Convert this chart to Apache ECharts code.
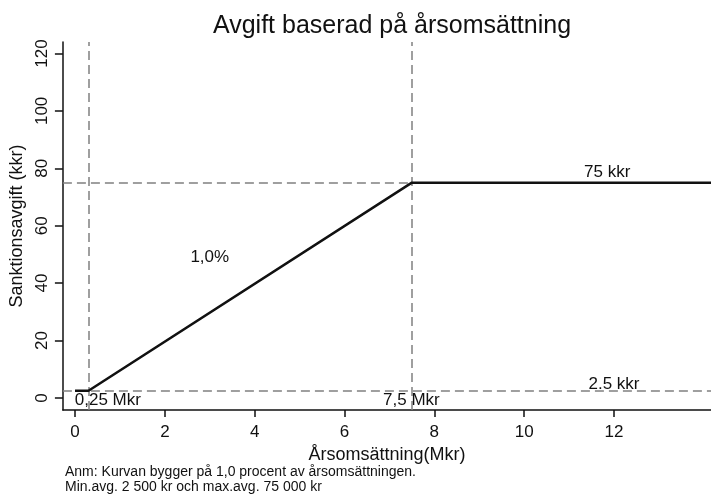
<!DOCTYPE html>
<html>
<head>
<meta charset="utf-8">
<script src="https://cdn.jsdelivr.net/npm/echarts@6/dist/echarts.min.js"></script>
<style>
html,body{margin:0;padding:0;background:#fff;}
#c{width:711px;height:495px;}
</style>
</head>
<body>
<div id="c"></div>
<script>
// Data
const titleText = 'Avgift baserad på årsomsättning';
const xName = 'Årsomsättning(Mkr)';
const yName = 'Sanktionsavgift (kkr)';
const xTicks = [0, 2, 4, 6, 8, 10, 12];
const yTicks = [0, 20, 40, 60, 80, 100, 120];
const turnover = [0, 0.3, 7.5, 14.2];        // Mkr
const fee = [2.5, 2.5, 75, 75];               // kkr
const refX = [0.3, 7.5];
const refY = [2.5, 75];
const annX = [3.0, 11.85, 12.0, 0.73, 7.49];
const annY = [49, 78.5, 4.6, -0.8, -0.8];
const annText = ['1,0%', '75 kkr', '2.5 kkr', '0,25 Mkr', '7,5 Mkr'];
const notes = ['Anm: Kurvan bygger på 1,0 procent av årsomsättningen.', 'Min.avg. 2 500 kr och max.avg. 75 000 kr'];

const FONT = '"Liberation Sans", Arial, sans-serif';
const chart = echarts.init(document.getElementById('c'), null, {renderer: 'canvas'});

const lineData = turnover.map((x, i) => [x, fee[i]]);
const annData = annX.map((x, i) => [x, annY[i], annText[i]]);
const markData = refX.map(v => ({xAxis: v})).concat(refY.map(v => ({yAxis: v})));

chart.setOption({
  animation: false,
  backgroundColor: '#fff',
  title: {
    text: titleText,
    left: 387, top: 9, textAlign: 'center',
    textStyle: {fontFamily: FONT, fontSize: 25, fontWeight: 'normal', color: '#111'}
  },
  grid: {left: 62, top: 42, right: 0, bottom: 85, containLabel: false},
  xAxis: {
    type: 'value', min: -0.27, max: 14.16,
    name: xName, nameLocation: 'middle', nameGap: 28,
    nameTextStyle: {fontFamily: FONT, fontSize: 18, color: '#111'},
    axisLine: {show: true, onZero: false, lineStyle: {color: '#111', width: 1.5}},
    axisTick: {show: true, length: 7, customValues: xTicks, lineStyle: {color: '#111', width: 1.5}},
    axisLabel: {customValues: xTicks, margin: 14, fontFamily: FONT, fontSize: 17, color: '#111'},
    splitLine: {show: false}
  },
  yAxis: {
    type: 'value', min: -4.2, max: 124,
    name: yName, nameLocation: 'middle', nameGap: 33,
    nameTextStyle: {fontFamily: FONT, fontSize: 18, color: '#111'},
    axisLine: {show: true, onZero: false, lineStyle: {color: '#111', width: 1.5}},
    axisTick: {show: true, length: 8, customValues: yTicks, lineStyle: {color: '#111', width: 1.5}},
    axisLabel: {customValues: yTicks, rotate: 90, margin: 12, fontFamily: FONT, fontSize: 17, color: '#111'},
    splitLine: {show: false}
  },
  series: [
    {
      type: 'line', data: lineData, symbol: 'none', silent: true,
      lineStyle: {color: '#111', width: 2.5},
      z: 3,
      markLine: {
        silent: true, symbol: ['none', 'none'], label: {show: false},
        lineStyle: {color: '#808080', width: 1.5, type: [9, 5]},
        data: markData, z: 2
      }
    },
    {
      type: 'scatter', data: annData, symbolSize: 0, silent: true, z: 5,
      itemStyle: {opacity: 1},
      label: {show: true, position: 'inside', formatter: p => p.data[2],
        fontFamily: FONT, fontSize: 17, color: '#111'}
    }
  ],
  graphic: notes.map((t, i) => ({
    type: 'text', left: 65, top: 465 + i * 15,
    style: {text: t, font: '14px ' + FONT, fill: '#111'}
  }))
});
</script>
</body>
</html>
